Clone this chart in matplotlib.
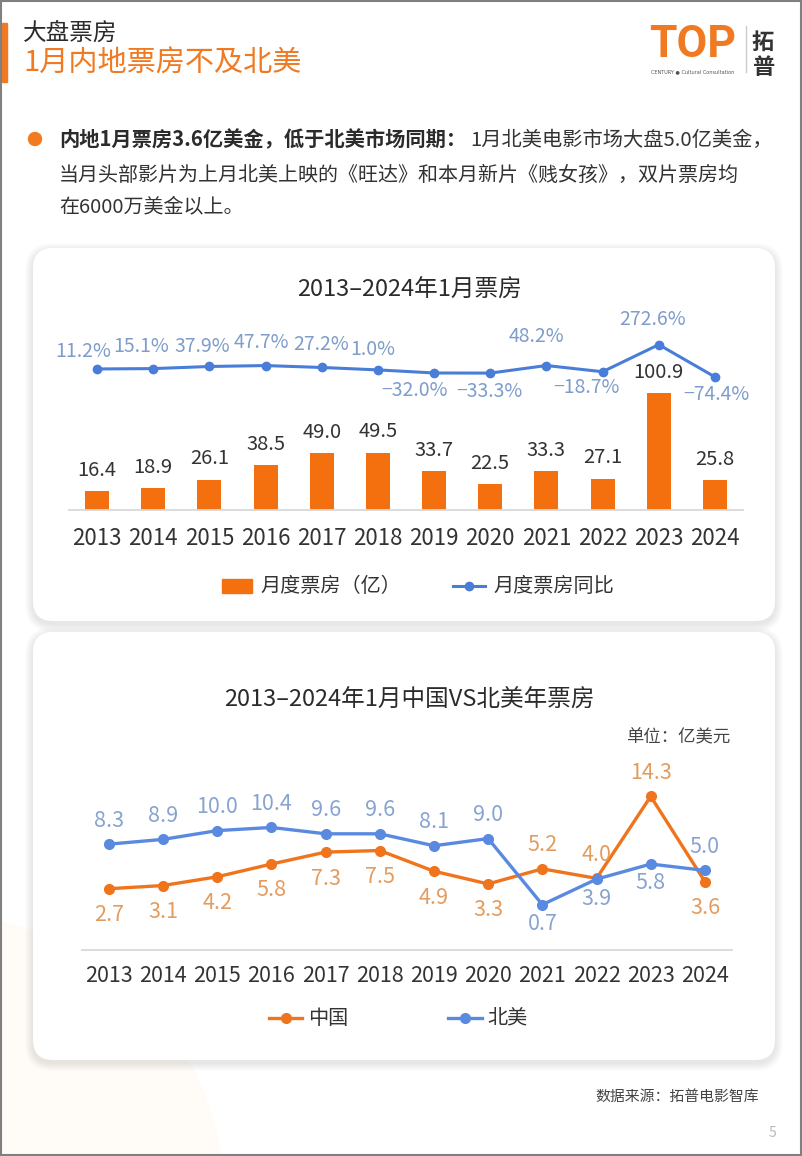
import matplotlib
matplotlib.use('Agg')
import matplotlib.pyplot as plt
from matplotlib.patches import FancyBboxPatch, Rectangle, Circle
from matplotlib.lines import Line2D
import numpy as np

plt.rcParams['font.family'] = ['Noto Sans CJK SC', 'DejaVu Sans']

# ---------------- data ----------------
years = ['2013', '2014', '2015', '2016', '2017', '2018', '2019', '2020', '2021', '2022', '2023', '2024']
monthly_box = [16.4, 18.9, 26.1, 38.5, 49.0, 49.5, 33.7, 22.5, 33.3, 27.1, 100.9, 25.8]
yoy_pct = [11.2, 15.1, 37.9, 47.7, 27.2, 1.0, -32.0, -33.3, 48.2, -18.7, 272.6, -74.4]
china_usd = [2.7, 3.1, 4.2, 5.8, 7.3, 7.5, 4.9, 3.3, 5.2, 4.0, 14.3, 3.6]
na_usd = [8.3, 8.9, 10.0, 10.4, 9.6, 9.6, 8.1, 9.0, 0.7, 3.9, 5.8, 5.0]

title_top = '2013–2024年1月票房'
title_bottom = '2013–2024年1月中国VS北美年票房'
legend_top = ['月度票房（亿）', '月度票房同比']
legend_bottom = ['中国', '北美']

# label nudges (pixels) for the YoY data labels, as placed in the original
yoy_dx = [-14, -12, -7, -4, -1, -5, -20, -1, -10, -16, -6, 1]
yoy_dy = [-18, -23, -21, -24, -24, -21, 17, 17, -30, 15, -26, 17]

# ---------------- colors ----------------
ORANGE = '#F4700E'
BLUE = '#4A7DD8'
BLUE2 = '#5A8AE0'
ORANGE2 = '#F0741C'
YOY_LBL = '#7F9CCB'
NA_LBL = '#88A3D1'
CN_LBL = '#E49C5E'
DARK = '#2b2b2b'

W, H = 802, 1156
PT = 0.72  # points per pixel at dpi 100
fig = plt.figure(figsize=(W / 100, H / 100), dpi=100)
fig.patch.set_facecolor('white')
bg = fig.add_axes([0, 0, 1, 1], zorder=0)
bg.set_xlim(0, W)
bg.set_ylim(H, 0)
bg.axis('off')


def ax_rect(l, r, t, b):
    return [l / W, 1 - b / H, (r - l) / W, (b - t) / H]


def fmt_signed(v, suffix=''):
    s = f'{abs(v):.1f}{suffix}'
    return ('−' + s) if v < 0 else s


# faint warm tint bottom-left
bg.add_patch(Circle((-60, 1200), 285, color='#FFFBF7', ec='none', zorder=0))


def card(x0, y0, x1, y1):
    for i in range(8, 0, -1):
        bg.add_patch(FancyBboxPatch((x0 - i, y0 - i + 3), (x1 - x0) + 2 * i, (y1 - y0) + 2 * i,
                                    boxstyle=f"round,pad=0,rounding_size={20 + i}",
                                    fc='black', ec='none', alpha=0.010, zorder=1))
    bg.add_patch(FancyBboxPatch((x0, y0), x1 - x0, y1 - y0,
                                boxstyle="round,pad=0,rounding_size=20",
                                fc='white', ec='none', zorder=2))


card(33, 248, 775, 621)
card(33, 632, 775, 1060)

# ---------------- header ----------------
bg.add_patch(Rectangle((2, 23), 5, 59, color='#F07A22', zorder=3))
bg.text(23, 33, '大盘票房', fontsize=17, va='center', ha='left', color=DARK, zorder=3)
bg.text(23, 64, '1月内地票房不及北美', fontsize=21, va='center', ha='left', color='#F07A22', zorder=3)

# logo
bg.text(649, 45, 'TOP', fontsize=32, fontweight='bold', family='Roboto', color='#F07A22',
        va='center', ha='left', zorder=3)
bg.text(651, 72, 'CENTURY ● Cultural Consultation', fontsize=3.6, family='DejaVu Sans',
        color='#555', va='center', ha='left', zorder=3)
bg.add_line(Line2D([746, 746], [26, 72], color='#cccccc', lw=1, zorder=3))
bg.text(763, 42, '拓', fontsize=16, fontweight='bold', color='#333', va='center', ha='center', zorder=3)
bg.text(763, 67, '普', fontsize=16, fontweight='bold', color='#333', va='center', ha='center', zorder=3)

# bullet paragraph
bg.add_patch(Circle((35, 139), 6.5, color='#F47A20', zorder=3))
fs_p = 14.6
t_bold = bg.text(59, 140, '内地1月票房3.6亿美金，低于北美市场同期：', fontsize=fs_p, fontweight='bold',
                 va='center', ha='left', color=DARK, zorder=3)
fig.canvas.draw()
ext = t_bold.get_window_extent(renderer=fig.canvas.get_renderer())
bg.text(ext.x1 + 4, 140, '1月北美电影市场大盘5.0亿美金，', fontsize=fs_p, va='center', ha='left',
        color='#333', zorder=3)
bg.text(59, 175, '当月头部影片为上月北美上映的《旺达》和本月新片《贱女孩》，双片票房均',
        fontsize=14.4, va='center', ha='left', color='#333', zorder=3)
bg.text(59, 207, '在6000万美金以上。', fontsize=14.4, va='center', ha='left', color='#333', zorder=3)

# ---------------- top chart ----------------
bg.text(409, 290, title_top, fontsize=17, va='center', ha='center', color=DARK, zorder=3)

x = np.arange(len(years))
T_TOP, T_BOT = 300, 510
ax1 = fig.add_axes(ax_rect(69, 743, T_TOP, T_BOT), zorder=3)
ax1.patch.set_alpha(0)
ax1.bar(x, monthly_box, width=0.43, color=ORANGE, zorder=2)
ax1.set_xlim(-0.5, 11.5)
ax1.set_ylim(0, (T_BOT - T_TOP) / 1.16)
for s in ['top', 'left', 'right']:
    ax1.spines[s].set_visible(False)
ax1.spines['bottom'].set_color('#d9d9d9')
ax1.spines['bottom'].set_linewidth(1.3)
ax1.set_yticks([])
ax1.set_xticks(x, years)
ax1.tick_params(axis='x', length=0, pad=12.5, labelsize=16, labelcolor='#333')
for i, v in enumerate(monthly_box):
    ax1.annotate(f'{v:.1f}', (i, v), xytext=(0, 15), textcoords='offset points',
                 ha='center', va='center', fontsize=14.5, color='#333')

ax2 = ax1.twinx()
zero_px = 370
px_per_pct = 0.093
ax2.set_ylim(-(T_BOT - zero_px) / px_per_pct, (zero_px - T_TOP) / px_per_pct)
ax2.plot(x, yoy_pct, color=BLUE, lw=2.2, marker='o', ms=6, zorder=3)
ax2.axis('off')
for i, v in enumerate(yoy_pct):
    ax2.annotate(fmt_signed(v, '%'), (i, v), xytext=(yoy_dx[i] * PT, -(yoy_dy[i] + 1) * PT),
                 textcoords='offset points', ha='center', va='center', fontsize=14,
                 color=YOY_LBL, annotation_clip=False)

# top legend
bg.add_patch(Rectangle((222, 579), 30, 14, color=ORANGE, zorder=3))
bg.text(260, 586, legend_top[0], fontsize=14.5, va='center', ha='left', color='#333', zorder=3)
bg.add_line(Line2D([453, 485], [586, 586], color=BLUE, lw=2.2, zorder=3))
bg.add_line(Line2D([469], [586], color=BLUE, marker='o', ms=6, zorder=3))
bg.text(493, 586, legend_top[1], fontsize=14.5, va='center', ha='left', color='#333', zorder=3)

# ---------------- bottom chart ----------------
bg.text(409, 700, title_bottom, fontsize=17, va='center', ha='center', color=DARK, zorder=3)
bg.text(730, 737, '单位：亿美元', fontsize=12.5, va='center', ha='right', color='#444', zorder=3)

ax3 = fig.add_axes(ax_rect(81.7, 732, 759, 950), zorder=3)
ax3.patch.set_alpha(0)
ax3.plot(x, china_usd, color=ORANGE2, lw=2.4, marker='o', ms=7, zorder=2)
ax3.plot(x, na_usd, color=BLUE2, lw=2.4, marker='o', ms=7, zorder=3)
ax3.set_xlim(-0.5, 11.5)
ax3.set_ylim(-5, 19)
for s in ['top', 'left', 'right']:
    ax3.spines[s].set_visible(False)
ax3.spines['bottom'].set_color('#d9d9d9')
ax3.spines['bottom'].set_linewidth(1.3)
ax3.set_yticks([])
ax3.set_xticks(x, years)
ax3.tick_params(axis='x', length=0, pad=11, labelsize=15.5, labelcolor='#333')
for i in range(len(years)):
    c, n = china_usd[i], na_usd[i]
    c_off = 17 if c > n else -19
    n_off = 17 if n >= c else -14
    ax3.annotate(f'{c:.1f}', (i, c), xytext=(0, c_off), textcoords='offset points',
                 ha='center', va='center', fontsize=15.5, color=CN_LBL)
    ax3.annotate(f'{n:.1f}', (i, n), xytext=(0, n_off), textcoords='offset points',
                 ha='center', va='center', fontsize=15.5, color=NA_LBL)

# bottom legend
bg.add_line(Line2D([269, 302], [1018, 1018], color=ORANGE2, lw=2.4, zorder=3))
bg.add_line(Line2D([286], [1018], color=ORANGE2, marker='o', ms=7, zorder=3))
bg.text(308, 1018, legend_bottom[0], fontsize=14.5, va='center', ha='left', color='#333', zorder=3)
bg.add_line(Line2D([448, 482], [1018, 1018], color=BLUE2, lw=2.4, zorder=3))
bg.add_line(Line2D([465], [1018], color=BLUE2, marker='o', ms=7, zorder=3))
bg.text(487, 1018, legend_bottom[1], fontsize=14.5, va='center', ha='left', color='#333', zorder=3)

# ---------------- footer ----------------
bg.text(759, 1097, '数据来源：拓普电影智库', fontsize=10.7, va='center', ha='right', color='#444', zorder=3)
bg.text(772, 1133, '5', fontsize=10, va='center', ha='center', color='#bbbbbb', zorder=3)

bg.add_patch(Rectangle((0.75, 0.75), W - 1.5, H - 1.5, fill=False, ec='#808080', lw=1.5, zorder=5))

fig.savefig('out.png', dpi=100)
